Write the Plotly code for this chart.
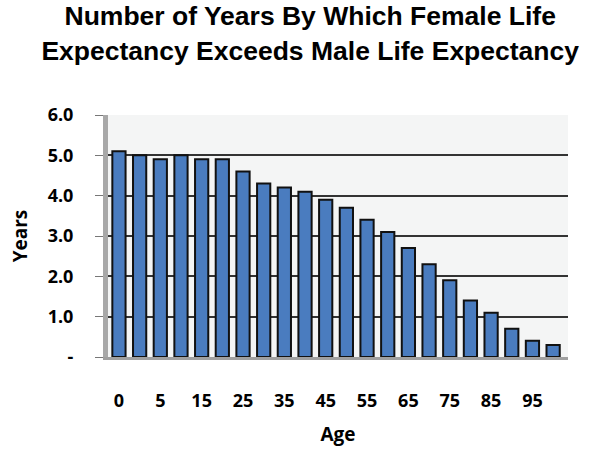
import plotly.graph_objects as go

ages = ["0", "1", "5", "10", "15", "20", "25", "30", "35", "40", "45",
        "50", "55", "60", "65", "70", "75", "80", "85", "90", "95", "100"]
years = [5.1, 5.0, 4.9, 5.0, 4.9, 4.9, 4.6, 4.3, 4.2, 4.1, 3.9,
         3.7, 3.4, 3.1, 2.7, 2.3, 1.9, 1.4, 1.1, 0.7, 0.4, 0.3]
y_ticks = [0, 1, 2, 3, 4, 5, 6]
y_ticktext = ["-", "1.0", "2.0", "3.0", "4.0", "5.0", "6.0"]
x_tickvals = ages[::2]

fig = go.Figure()
fig.add_trace(go.Bar(
    x=ages, y=years,
    marker=dict(color="#4a7cbf", line=dict(color="#111111", width=2)),
    width=0.64,
))

tick_font = dict(family="Open Sans, Lato, sans-serif", size=18, color="#000000", weight="bold")
fig.update_layout(
    width=592, height=449,
    margin=dict(l=108, r=24, t=115, b=92),
    paper_bgcolor="white",
    plot_bgcolor="#f4f5f5",
    showlegend=False,
    title=dict(
        text="<b>Number of Years By Which Female Life<br>Expectancy Exceeds Male Life Expectancy</b>",
        x=0.524, xanchor="center", yref="container", y=0.944, yanchor="middle",
        font=dict(family="Liberation Sans, Arial, sans-serif", size=26.5, color="#000000"),
    ),
)
fig.update_xaxes(
    type="category", range=[-0.53, 21.72], automargin=False,
    tickvals=x_tickvals, ticktext=x_tickvals,
    tickfont=tick_font, ticks="", ticklabelstandoff=25,
    showgrid=False, showline=True, linecolor="#a0a0a0", linewidth=3,
    title=dict(text="<b>Age</b>", font=dict(family="Open Sans, Lato, sans-serif", size=19, color="#000"), standoff=18),
)
fig.update_yaxes(
    range=[0, 6], tickvals=y_ticks, ticktext=y_ticktext, automargin=False,
    tickfont=tick_font, ticks="outside", ticklen=8, tickcolor="#777",
    ticklabelstandoff=18,
    showgrid=True, gridcolor="#333333", gridwidth=1.5,
    showline=True, linecolor="#a8a8a8", linewidth=5,
    zeroline=False,
    title=dict(text="<b>Years</b>", font=dict(family="Open Sans, Lato, sans-serif", size=19, color="#000"), standoff=17),
)

fig.write_html("out.html", config={"displayModeBar": False},
               post_script="document.body.style.margin='0';")
